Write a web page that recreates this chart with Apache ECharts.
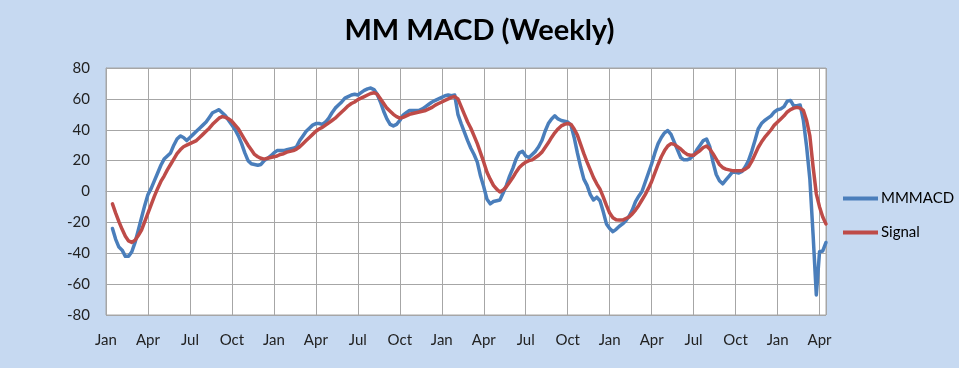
<!DOCTYPE html>
<html>
<head>
<meta charset="utf-8">
<script src="https://cdn.jsdelivr.net/npm/echarts@6/dist/echarts.min.js"></script>
<style>
html,body{margin:0;padding:0;background:#C6D9F1;}
#chart{width:959px;height:368px;}
</style>
</head>
<body>
<div id="chart"></div>
<script>
// Week index of the first data point (weeks counted from the first "Jan" tick)
const startWeek = 2;
// Tick labels, one per quarter (every 13 weeks)
const quarterLabels = ['Jan','Apr','Jul','Oct','Jan','Apr','Jul','Oct','Jan','Apr','Jul','Oct','Jan','Apr','Jul','Oct','Jan','Apr'];
const seriesNames = ['MMMACD', 'Signal'];

const mmmacd = [
 -24,-31,-36,-38,-42,-42,-39,-33,-25,-17,-9,-2,2,7,12,17,21,23,25,30,
 34,36,35,33,35,37,39,41,43,45,48,51,52,53,51,49,46,43,40,36,
 31,25,20,18,17.5,17,17.5,20,21.5,23,25,26.5,26.5,26.5,27,27.5,28,29,33,36,
 39,41,43,44,44,43.5,45,47.5,51,54,56,58,60.5,61.5,62.5,63,62.5,64,65.5,66.5,
 67,66,63,58,52,47,43.5,42.5,43.5,46,49.5,51,52.5,52.5,52.5,52.5,53.5,55,56.5,58,
 59,60,61,62,62.5,62,62.5,50,44,38.5,33,28,24,19,10,3,-5,-8,-6.5,-6,
 -5.5,-1,4,10,15,21,25,26,23,22,24,26,29,33,39,44,47,49,47,46,
 45.5,45,43,35,25,16,8,4,-2,-5.5,-3.7,-6,-13,-21,-24,-26,-24.5,-22.5,-21,-19,
 -16,-12,-6.5,-3,0,6,12,18,25,31,35,38,39.5,37,32,27,22,20.5,20.5,21.5,
 23.5,27,30,33,34,29,19,11,7,5,7.5,10,12.5,12.5,12,13,16,20,26,33,
 40.5,44,46,47.5,49,51.5,53,53.5,55,58.5,59,55.5,55.5,56,46,29,8,-28,-67,-39,
 -38.5,-33
];

const signal = [
 -8,-14,-19.5,-24.5,-29,-32,-33,-31.5,-28.5,-25,-19.5,-14,-8.5,-3,2,6.5,10,14,17.5,21,
 24.5,27,29,30,31,32,33,35,37,39,41,43.5,45.5,47.5,48.5,48,47,45.5,43,40.5,
 37,33.5,30,27,24,22.5,21.5,21,21.5,22,22.5,23,24,24.5,25.5,26,26.5,27.5,29,31,
 33,35,37,39,40.5,41.5,43,44.5,46,47.5,49.5,51.5,53.5,55.5,57,58,59.5,60.5,61.5,62.5,
 63.5,64,63,60,57,54,52,50,48.5,47.5,48,49,50,50.5,51,51.5,52,52.5,53.5,54.5,
 56,57,58,59,60,61,61.5,60,55,50,45,41,36,31,25,19,12.5,8,4,1.5,
 -0.3,1,3,6,9,12.5,15.5,17.5,19,20,20.5,22,23.5,25.5,28.5,31.5,35,38,40.5,42.5,
 43.5,44,43.5,40.5,36.5,30.5,24.5,19,14,9,5,1.5,-3.5,-9,-14,-17,-18.3,-18.5,-18.5,-17.5,
 -16.5,-14.5,-12,-9,-5.5,-2,2,6.5,12,17.5,22.5,26.5,29.5,31,30.5,29,27.5,25.5,24,23.5,
 23.5,25,26.5,28.5,29.5,27.5,24.5,21,17.5,15.5,14.5,14,13.5,13.5,13.5,13.5,14.5,16,19.5,24,
 28.5,32,35,37.5,40,43,45,47,49,51.5,53,54,54.5,54,52.5,46,36,16,-1.5,-10,
 -16.5,-21
];

function toPairs(arr){ return arr.map((v,i)=>[startWeek+i, v]); }

const chart = echarts.init(document.getElementById('chart'), null, {renderer:'canvas'});
const gridColor = '#A6A6A6';
const font = 'Lato, "Open Sans", sans-serif';
chart.setOption({
  backgroundColor: '#C6D9F1',
  animation: false,
  title: {
    text: 'MM MACD (Weekly)',
    left: 'center', top: 11,
    textStyle: {fontFamily: font, fontWeight: 'bold', fontSize: 29, color: '#000'}
  },
  legend: {
    orient: 'vertical',
    left: 838, top: 186,
    itemWidth: 35, itemHeight: 4, itemGap: 19,
    icon: 'rect',
    data: seriesNames,
    textStyle: {fontFamily: font, fontSize: 15, color: '#000', padding:[0,0,0,-2]}
  },
  grid: {
    left: 106, right: 133, top: 68, bottom: 53,
    show: true, backgroundColor: '#FFFFFF', borderColor: gridColor, borderWidth: 1
  },
  xAxis: {
    type: 'value', min: 0, max: 223, interval: 13,
    axisLine: {show: true, lineStyle: {color: gridColor}},
    axisTick: {show: false},
    splitLine: {show: true, lineStyle: {color: gridColor, width: 1}},
    axisLabel: {
      margin: 18, fontFamily: font, fontSize: 15, color: '#222',
      formatter: v => (v % 13 === 0 ? quarterLabels[v/13] : '')
    }
  },
  yAxis: {
    type: 'value', min: -80, max: 80, interval: 20,
    axisLine: {show: true, lineStyle: {color: gridColor}},
    axisTick: {show: false},
    splitLine: {show: true, lineStyle: {color: gridColor, width: 1}},
    axisLabel: {margin: 16, fontFamily: font, fontSize: 15, color: '#222'}
  },
  series: [
    {name: seriesNames[0], type: 'line', data: toPairs(mmmacd), showSymbol: false,
     lineStyle: {width: 3.5, color: '#4A7EBB', cap: 'round', join: 'round'}, itemStyle: {color: '#4A7EBB'}},
    {name: seriesNames[1], type: 'line', data: toPairs(signal), showSymbol: false,
     lineStyle: {width: 3.5, color: '#BE4B48', cap: 'round', join: 'round'}, itemStyle: {color: '#BE4B48'}}
  ]
});
</script>
</body>
</html>
